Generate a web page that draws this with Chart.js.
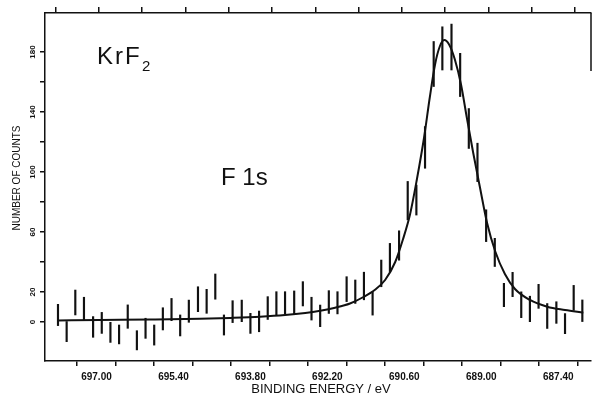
<!DOCTYPE html>
<html><head><meta charset="utf-8">
<script src="https://cdn.jsdelivr.net/npm/chart.js@4.4.1/dist/chart.umd.min.js"></script>
<style>html,body{margin:0;padding:0;background:#fff;}#wrap{width:592px;height:398px;}</style>
</head><body><div id="wrap"><canvas id="c" width="592" height="398"></canvas></div>
<script>
// Measured spectrum: binding energy (eV), counts, error half-widths
const energies = [697.80,697.62,697.44,697.26,697.07,696.89,696.71,696.53,696.35,696.16,
  695.98,695.80,695.62,695.44,695.26,695.08,694.89,694.71,694.53,694.35,
  694.17,693.98,693.80,693.62,693.44,693.26,693.08,692.89,692.71,692.53,
  692.35,692.17,691.99,691.80,691.62,691.44,691.26,691.08,690.90,690.71,
  690.53,690.35,690.17,689.99,689.81,689.62,689.44,689.26,689.08,688.90,
  688.72,688.53,688.35,688.17,687.99,687.81,687.63,687.44,687.26,687.08,686.90];
const counts = [4.7,-6.4,13,8.9,-3.3,-0.6,-6.9,-8.3,3.6,-12.2,
  -4.2,-8.7,2.1,8.3,-2.3,7.2,15.2,13.8,23.6,-2,
  6.9,7.4,-0.9,0.4,9.3,12.4,12.8,13,18.8,8.9,
  4.1,13.3,12.8,21.9,20.2,24,12.4,32.4,43,51,
  80.9,81.3,116.4,172,182.4,183.3,164.7,129,106.4,64.2,
  46.4,18,25,11.5,8.7,17.1,4,6.3,-1.1,16.1,7.5];
const errors = [7.1,6.7,8.3,7.6,6.9,7.0,6.7,6.3,7.8,6.4,
  6.7,6.7,7.4,7.4,7.0,7.4,8.3,8.0,8.4,6.7,
  7.3,7.2,6.7,6.9,7.6,7.8,7.4,7.7,8.1,7.6,
  7.2,7.6,7.4,8.3,7.8,9.2,7.8,8.9,9.4,9.8,
  12.8,10.0,13.9,15.0,14.4,15.3,14.4,13.3,12.8,10.6,
  9.4,7.8,8.1,8.6,8.5,8.0,8.3,7.2,6.7,8.3,7.2];
// Fitted curve
const fitEnergy = [697.80,696.93,695.89,694.85,694.22,693.60,693.08,692.66,692.35,692.04,
  691.73,691.46,691.21,691.00,690.79,690.63,690.48,690.34,690.19,690.07,
  689.96,689.86,689.77,689.67,689.55,689.42,689.30,689.17,689.03,688.88,
  688.71,688.51,688.30,687.99,687.63,687.26,686.88];
const fitCounts = [1.0,1.3,1.6,2.1,2.7,3.5,4.6,6.0,7.5,9.5,
  12.3,16.5,21.5,28,40,55,72,95,123,150,
  172,184,188,185,175,158,136,113,90,66,
  47,32,22,14.7,10.2,8.0,6.2];
// Axes
const xMin = 686.72, xMax = 698.07;
const bottomTicks = [697.0,696.2,695.4,694.6,693.8,693.0,692.2,691.4,690.6,689.8,689.0,688.2,687.4];
const bottomTickLabels = ['697.00','','695.40','','693.80','','692.20','','690.60','','689.00','','687.40'];
const topTicks = [697.4,696.5,695.6,694.7,693.8,692.9,692.0,691.1,690.2,689.3,688.4,687.5];
const yMin = -26, yMax = 206;
const yTicks = [0,20,40,60,80,100,120,140,160,180];
const yTickLabels = ['0','20','','60','','100','','140','','180'];
const xTitle = 'BINDING ENERGY / eV';
const yTitle = 'NUMBER OF COUNTS';

const INK = '#111';
const FONT = '"Liberation Sans", Arial, sans-serif';

const annot = {
  id: 'annot',
  afterDraw(chart) {
    const c = chart.ctx, a = chart.chartArea, ys = chart.scales.y;
    c.save();
    c.fillStyle = INK;
    c.font = 'bold 8px ' + FONT;
    yTicks.forEach((v, i) => {
      const lab = yTickLabels[i];
      if (!lab) return;
      const py = ys.getPixelForValue(v);
      c.save();
      c.translate(a.left - 12, py);
      c.rotate(-Math.PI / 2);
      c.textAlign = 'center'; c.textBaseline = 'middle';
      c.fillText(lab, 0, 0);
      c.restore();
    });
    c.save();
    c.translate(17, 178);
    c.rotate(-Math.PI / 2);
    c.font = '10px ' + FONT;
    c.textAlign = 'center'; c.textBaseline = 'middle';
    c.fillText(yTitle, 0, 0);
    c.restore();
    c.font = '13px ' + FONT;
    c.textAlign = 'center'; c.textBaseline = 'middle';
    c.fillText(xTitle, 321, 389);
    c.textAlign = 'left'; c.textBaseline = 'alphabetic';
    c.font = '24px ' + FONT;
    c.letterSpacing = '2px';
    c.fillText('KrF', 97, 64);
    c.letterSpacing = '0px';
    c.font = '15px ' + FONT;
    c.fillText('2', 142, 71);
    c.font = '24px ' + FONT;
    c.fillText('F 1s', 221, 185);
    c.strokeStyle = INK; c.lineWidth = 1.5;
    c.beginPath(); c.moveTo(a.right, a.top); c.lineTo(a.right, a.top + 58); c.stroke();
    c.restore();
  }
};

new Chart(document.getElementById('c'), {
  type: 'bar',
  data: {
    datasets: [
      {
        type: 'line',
        data: fitEnergy.map((e, i) => ({x: e, y: fitCounts[i]})),
        borderColor: INK, borderWidth: 2, pointRadius: 0,
        cubicInterpolationMode: 'monotone', fill: false,
        xAxisID: 'x', yAxisID: 'y'
      },
      {
        type: 'bar',
        data: energies.map((e, i) => ({x: e, y: [counts[i] - errors[i], counts[i] + errors[i]]})),
        backgroundColor: INK, borderWidth: 0, barThickness: 1.5,
        xAxisID: 'x', yAxisID: 'y'
      }
    ]
  },
  options: {
    responsive: false, animation: false, devicePixelRatio: 1,
    layout: {padding: {left: 0, right: 1, top: 0, bottom: 0}},
    plugins: {legend: {display: false}, tooltip: {enabled: false}},
    scales: {
      x: {
        type: 'linear', position: 'bottom', reverse: true, min: xMin, max: xMax, offset: false,
        afterBuildTicks: s => { s.ticks = bottomTicks.map(v => ({value: v})); },
        afterFit: s => { s.height = 37; },
        grid: {drawOnChartArea: false, drawTicks: true, tickLength: 5, color: INK, lineWidth: 1.5},
        border: {display: true, color: INK, width: 1.5},
        ticks: {
          autoSkip: false, maxRotation: 0, minRotation: 0, padding: 5, color: INK,
          font: {family: FONT, size: 10, weight: 'bold'},
          callback: (v, i) => bottomTickLabels[i]
        }
      },
      xTop: {
        type: 'linear', position: 'top', reverse: true, min: xMin, max: xMax, offset: false,
        afterBuildTicks: s => { s.ticks = topTicks.map(v => ({value: v})); },
        afterFit: s => { s.height = 13; },
        grid: {drawOnChartArea: false, drawTicks: true, tickLength: 6, color: INK, lineWidth: 1.5},
        border: {display: true, color: INK, width: 1.5},
        ticks: {display: false}
      },
      y: {
        type: 'linear', position: 'left', min: yMin, max: yMax,
        afterBuildTicks: s => { s.ticks = yTicks.map(v => ({value: v})); },
        afterFit: s => { s.width = 45; },
        grid: {drawOnChartArea: false, drawTicks: true, tickLength: 5, color: INK, lineWidth: 1.5},
        border: {display: true, color: INK, width: 1.5},
        ticks: {display: false}
      }
    }
  },
  plugins: [annot]
});
</script>
</body></html>
